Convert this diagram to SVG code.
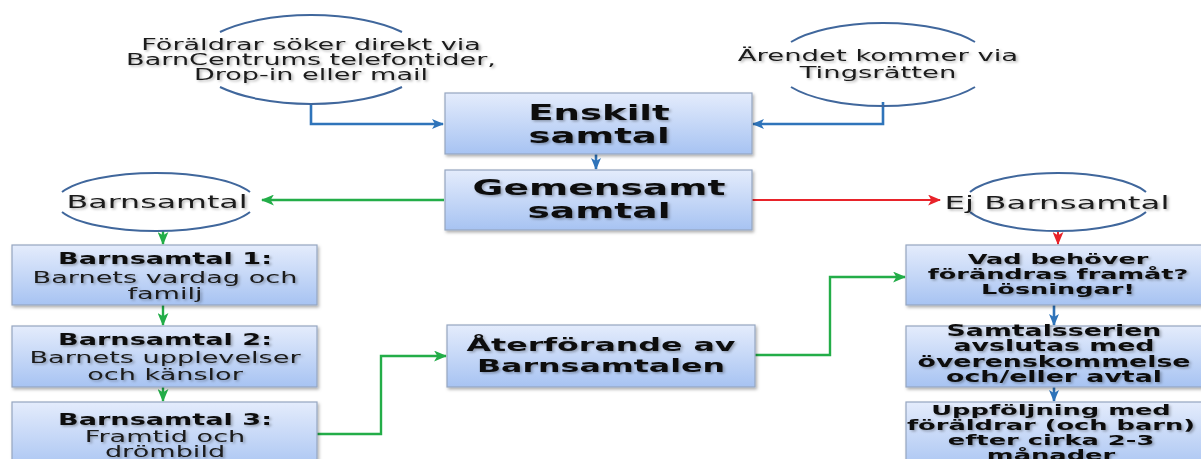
<svg xmlns="http://www.w3.org/2000/svg" width="1201" height="459" viewBox="0 0 1201 459">
  <defs>
    <linearGradient id="boxGrad" x1="0" y1="0" x2="0" y2="1">
      <stop offset="0" stop-color="#e4ecfc"/>
      <stop offset="1" stop-color="#a7c3f2"/>
    </linearGradient>
    <filter id="boxShadow" x="-5%" y="-10%" width="115%" height="130%">
      <feDropShadow dx="1.5" dy="2" stdDeviation="1.5" flood-color="#000" flood-opacity="0.3"/>
    </filter>
    <filter id="textShadow" x="-5%" y="-30%" width="110%" height="170%">
      <feDropShadow dx="1" dy="1.5" stdDeviation="1" flood-color="#000" flood-opacity="0.3"/>
    </filter>
    <marker id="ahBlue" viewBox="0 0 12 10" refX="11" refY="5" markerWidth="12" markerHeight="10" markerUnits="userSpaceOnUse" orient="auto">
      <path d="M0,0 L12,5 L0,10 L3,5 z" fill="#2f74ba"/>
    </marker>
    <marker id="ahGreen" viewBox="0 0 12 10" refX="11" refY="5" markerWidth="13" markerHeight="11" markerUnits="userSpaceOnUse" orient="auto">
      <path d="M0,0 L12,5 L0,10 L3,5 z" fill="#23ad48"/>
    </marker>
    <marker id="ahRed" viewBox="0 0 12 10" refX="11" refY="5" markerWidth="13" markerHeight="11" markerUnits="userSpaceOnUse" orient="auto">
      <path d="M0,0 L12,5 L0,10 L3,5 z" fill="#e8232a"/>
    </marker>
  </defs>
  <style>
    .box { fill: url(#boxGrad); stroke: #95a6c0; stroke-width: 1.2; filter: url(#boxShadow); }
    .arc { fill: none; stroke: #40679c; stroke-width: 2; }
    .t { font-family: "DejaVu Sans", Verdana, sans-serif; fill: #1a1a1a; text-anchor: middle; filter: url(#textShadow); }
    .b { font-weight: bold; fill: #111; }
    .cb { fill: none; stroke: #2f74ba; stroke-width: 2.6; marker-end: url(#ahBlue); }
    .cg { fill: none; stroke: #23ad48; stroke-width: 2.4; marker-end: url(#ahGreen); }
    .cr { fill: none; stroke: #e8232a; stroke-width: 2; marker-end: url(#ahRed); }
  </style>
  <rect x="0" y="0" width="1201" height="459" fill="#ffffff"/>

  <g id="connectors">
    <path class="cb" d="M311,103 V124 H443"/>
    <path class="cb" d="M883,102 V124 H753"/>
    <path class="cb" d="M596,154 V169"/>
    <path class="cg" d="M444,200 H262"/>
    <path class="cr" d="M752,200 H940"/>
    <path class="cg" d="M163,231 V244"/>
    <path class="cr" d="M1058,231 V244"/>
    <path class="cg" d="M163,305 V325"/>
    <path class="cg" d="M163,387 V401"/>
    <path class="cg" d="M317,434 H381 V356 H446"/>
    <path class="cg" d="M755,355 H830 V277 H905"/>
    <path class="cb" d="M1054,305 V325"/>
    <path class="cb" d="M1054,387 V401"/>
  </g>

  <g id="source-parents">
    <path class="arc" d="M220,32 A116,44.5 0 0 1 402,32"/>
    <path class="arc" d="M220,87 A116,44.5 0 0 0 402,87"/>
    <text class="t" font-size="15.2" transform="translate(311,50) scale(1.78,1)">Föräldrar söker direkt via</text>
    <text class="t" font-size="15.2" transform="translate(311,65) scale(1.78,1)">BarnCentrums telefontider,</text>
    <text class="t" font-size="15.2" transform="translate(311,80) scale(1.78,1)">Drop-in eller mail</text>
  </g>

  <g id="source-court">
    <path class="arc" d="M791,42 A107.6,39.5 0 0 1 975,42"/>
    <path class="arc" d="M791,87 A107.6,39.5 0 0 0 975,87"/>
    <text class="t" font-size="15.7" transform="translate(878,61) scale(1.75,1)">Ärendet kommer via</text>
    <text class="t" font-size="15.7" transform="translate(878,78) scale(1.75,1)">Tingsrätten</text>
  </g>

  <g id="enskilt">
    <rect class="box" x="445" y="93" width="307" height="61"/>
    <text class="t b" font-size="21.2" transform="translate(599,120) scale(1.75,1)">Enskilt</text>
    <text class="t b" font-size="21.2" transform="translate(599,143) scale(1.75,1)">samtal</text>
  </g>

  <g id="gemensamt">
    <rect class="box" x="445" y="170" width="307" height="60"/>
    <text class="t b" font-size="21.5" transform="translate(599,195) scale(1.75,1)">Gemensamt</text>
    <text class="t b" font-size="21.5" transform="translate(599,218) scale(1.75,1)">samtal</text>
  </g>

  <g id="barnsamtal">
    <path class="arc" d="M62,192 A100,29 0 0 1 250,192"/>
    <path class="arc" d="M62,212 A100,29 0 0 0 250,212"/>
    <text class="t" font-size="18.1" transform="translate(157,208) scale(1.75,1)">Barnsamtal</text>
  </g>

  <g id="ej-barnsamtal">
    <path class="arc" d="M970,192 A93.7,29 0 0 1 1146,192"/>
    <path class="arc" d="M970,212 A93.7,29 0 0 0 1146,212"/>
    <text class="t" font-size="18.5" transform="translate(1057,209) scale(1.75,1)">Ej Barnsamtal</text>
  </g>

  <g id="barnsamtal-1">
    <rect class="box" x="12" y="245" width="305" height="60"/>
    <text class="t b" font-size="15.5" transform="translate(165,264) scale(1.75,1)">Barnsamtal  1:</text>
    <text class="t" font-size="15.5" transform="translate(165,283) scale(1.75,1)">Barnets vardag och</text>
    <text class="t" font-size="15.5" transform="translate(165,299) scale(1.75,1)">familj</text>
  </g>

  <g id="barnsamtal-2">
    <rect class="box" x="12" y="326" width="305" height="61"/>
    <text class="t b" font-size="15.5" transform="translate(165,345) scale(1.75,1)">Barnsamtal  2:</text>
    <text class="t" font-size="15.5" transform="translate(165,363) scale(1.75,1)">Barnets upplevelser</text>
    <text class="t" font-size="15.5" transform="translate(165,380) scale(1.75,1)">och känslor</text>
  </g>

  <g id="barnsamtal-3">
    <rect class="box" x="12" y="402" width="305" height="70"/>
    <text class="t b" font-size="15.5" transform="translate(165,425) scale(1.75,1)">Barnsamtal  3:</text>
    <text class="t" font-size="15.5" transform="translate(165,442) scale(1.75,1)">Framtid och</text>
    <text class="t" font-size="15.5" transform="translate(165,457) scale(1.75,1)">drömbild</text>
  </g>

  <g id="aterforande">
    <rect class="box" x="447" y="325" width="308" height="62"/>
    <text class="t b" font-size="18.1" transform="translate(601,351) scale(1.75,1)">Återförande av</text>
    <text class="t b" font-size="18.1" transform="translate(601,372) scale(1.75,1)">Barnsamtalen</text>
  </g>

  <g id="vad-behover">
    <rect class="box" x="906" y="245" width="300" height="60"/>
    <text class="t b" font-size="14.6" transform="translate(1058,264) scale(1.75,1)">Vad behöver</text>
    <text class="t b" font-size="14.6" transform="translate(1058,279) scale(1.75,1)">förändras framåt?</text>
    <text class="t b" font-size="14.6" transform="translate(1058,294) scale(1.75,1)">Lösningar!</text>
  </g>

  <g id="samtalsserien">
    <rect class="box" x="906" y="326" width="300" height="61"/>
    <text class="t b" font-size="15.3" transform="translate(1054,336) scale(1.75,1)">Samtalsserien</text>
    <text class="t b" font-size="15.3" transform="translate(1054,351) scale(1.75,1)">avslutas med</text>
    <text class="t b" font-size="15.3" transform="translate(1054,367) scale(1.75,1)">överenskommelse</text>
    <text class="t b" font-size="15.3" transform="translate(1054,382) scale(1.75,1)">och/eller avtal</text>
  </g>

  <g id="uppfoljning">
    <rect class="box" x="906" y="402" width="300" height="70"/>
    <text class="t b" font-size="14.7" transform="translate(1051,415) scale(1.75,1)">Uppföljning med</text>
    <text class="t b" font-size="14.7" transform="translate(1051,430) scale(1.75,1)">föräldrar (och barn)</text>
    <text class="t b" font-size="14.7" transform="translate(1051,445) scale(1.75,1)">efter cirka 2-3</text>
    <text class="t b" font-size="14.7" transform="translate(1051,460) scale(1.75,1)">månader</text>
  </g>
</svg>
